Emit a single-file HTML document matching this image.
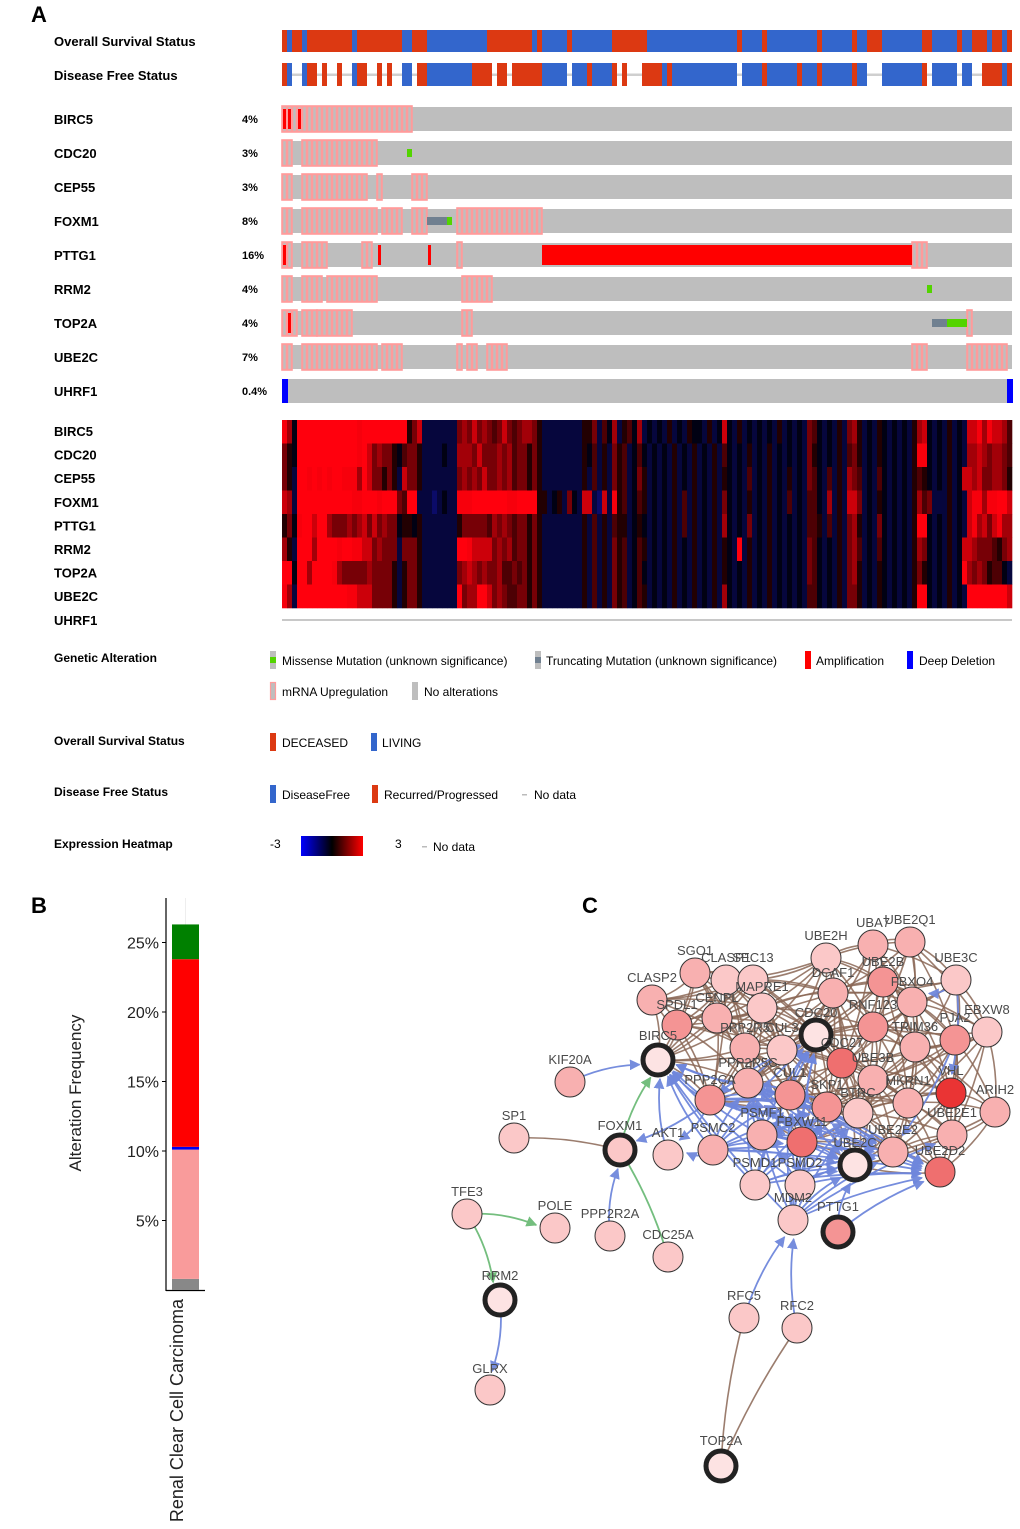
<!DOCTYPE html>
<html><head><meta charset="utf-8"><style>
html,body{margin:0;padding:0;background:#fff;}
svg{display:block;font-family:"Liberation Sans",Arial,sans-serif;}
</style></head><body>
<svg id="fig" width="1020" height="1529" viewBox="0 0 1020 1529" xmlns="http://www.w3.org/2000/svg">
<defs>
<linearGradient id="hmgrad" x1="0" x2="1" y1="0" y2="0">
<stop offset="0" stop-color="#0000ff"/><stop offset="0.5" stop-color="#000000"/><stop offset="1" stop-color="#ff0000"/>
</linearGradient>
<marker id="arB" viewBox="0 0 10 10" refX="9" refY="5" markerWidth="6" markerHeight="6" orient="auto"><path d="M0,0L10,5L0,10z" fill="#6f87dc"/></marker>
<marker id="arG" viewBox="0 0 10 10" refX="9" refY="5" markerWidth="6" markerHeight="6" orient="auto"><path d="M0,0L10,5L0,10z" fill="#6dbb78"/></marker>
</defs>
<text x="31" y="22" font-size="22" font-weight="bold">A</text>
<text x="31" y="913" font-size="22" font-weight="bold">B</text>
<text x="582" y="913" font-size="22" font-weight="bold">C</text>
<g id="onco"></g>
<g id="heat"></g>
<g id="legend"></g>
<g id="bar"></g>
<g id="net"></g>
</svg>
<script>
const NS="http://www.w3.org/2000/svg";
function el(tag,attrs,parent,text){const e=document.createElementNS(NS,tag);for(const k in attrs)e.setAttribute(k,attrs[k]);if(text!==undefined)e.textContent=text;parent.appendChild(e);return e;}

// ---------- Panel A data ----------
const N=146;
const genes=["BIRC5","CDC20","CEP55","FOXM1","PTTG1","RRM2","TOP2A","UBE2C","UHRF1"];
const pcts=["4%","3%","3%","8%","16%","4%","4%","7%","0.4%"];
const osBounds=[0,1,2,4,5,14,15,24,26,29,41,50,51,52,57,58,66,73,91,92,96,97,107,108,114,115,117,120,128,130,135,136,138,141,142,144,145,146];
const dfsRuns=[[0,1,"R"],[1,2,"B"],[4,5,"B"],[5,7,"R"],[8,9,"R"],[11,12,"R"],[14,15,"B"],[15,17,"R"],[19,20,"R"],[21,22,"R"],[24,26,"B"],[27,29,"R"],[29,38,"B"],[38,42,"R"],[43,45,"R"],[46,52,"R"],[52,57,"B"],[58,61,"B"],[61,62,"R"],[62,66,"B"],[66,67,"R"],[68,69,"R"],[72,76,"R"],[76,77,"B"],[77,78,"R"],[78,91,"B"],[92,96,"B"],[96,97,"R"],[97,103,"B"],[103,104,"R"],[104,107,"B"],[107,108,"R"],[108,114,"B"],[114,115,"R"],[115,117,"B"],[120,128,"B"],[128,129,"R"],[130,135,"B"],[136,138,"B"],[140,144,"R"],[144,145,"B"],[145,146,"R"]];
const mrnaUp=[[[0,25]],[[0,1],[4,18]],[[0,1],[4,16],[19,19],[26,28]],[[0,1],[4,18],[20,23],[26,28],[35,51]],[[0,1],[4,8],[16,17],[35,35],[126,128]],[[0,1],[4,7],[9,18],[36,41]],[[0,2],[4,6],[7,13],[36,37],[137,137]],[[0,1],[4,18],[20,23],[35,35],[37,38],[41,44],[126,128],[137,144]],[]];
const ampl=[[[0,0],[1,1],[3,3]],[],[],[],[[0,0],[19,19],[29,29],[52,125]],[],[[1,1]],[],[]];
const missense=[[],[25],[],[33],[],[129],[133,134,135,136],[],[]];
const truncating=[[],[],[],[29,30,31,32],[],[],[130,131,132],[],[]];
const deepDel=[[],[],[],[],[],[],[],[],[0,145]];
const heatRows=[
"86"+"2"+"9999999999998999999999"+"357"+"1111111"+"56575654575456653"+"11111111"+"33514261342612"+"12131213221312"+"7"+"2131212121312121"+"54"+"212131"+"56"+"312132121213"+"67"+"21213121"+"778687764",
"53"+"2"+"999999999999"+"8975"+"6553"+"2"+"4553"+"1111211"+"66657555656455353"+"11111111"+"32413153412421"+"21213121312131"+"4"+"2121312131212121"+"53"+"212131"+"45"+"312132121213"+"88"+"21213121"+"667656654",
"53"+"1"+"998989899888"+"6975"+"5353"+"1"+"7553"+"1111111"+"56565755656455353"+"11111111"+"31413153412531"+"21213121312131"+"3"+"2121412131213121"+"54"+"214131"+"65"+"412142121213"+"43"+"21213127"+"767556653",
"76"+"1"+"999999999998"+"8999"+"8999"+"5"+"4991"+"1101211"+"88899999998899993"+"31231521"+"77107183412431"+"21213141312131"+"5"+"2121312131214121"+"44"+"216131"+"77"+"512132121213"+"64"+"51113121"+"788688997",
"35"+"2"+"899799655565"+"6757"+"5655"+"2"+"3323"+"1111111"+"35555546565455353"+"11111111"+"31413143312321"+"21213141312131"+"6"+"2121512131212121"+"44"+"314131"+"56"+"312152121213"+"99"+"21213121"+"786757866",
"63"+"1"+"999699998998"+"8775"+"6555"+"1"+"5553"+"1111111"+"99877775656455353"+"11111111"+"31413153412431"+"21213121312131"+"3"+"2191312131212121"+"54"+"212131"+"56"+"412142121213"+"65"+"21213127"+"765554356",
"99"+"2"+"996999986555"+"5565"+"5553"+"1"+"3553"+"1111111"+"56765655644545353"+"11111111"+"31413153412421"+"21213121312131"+"3"+"2121312131212121"+"54"+"212131"+"56"+"312132121213"+"53"+"21213129"+"656534421",
"86"+"1"+"999999999988"+"7775"+"5553"+"1"+"3553"+"1111111"+"95669975654455353"+"11111111"+"31413153412431"+"21213121312131"+"6"+"2121312131212121"+"44"+"212131"+"55"+"312132121213"+"99"+"21213121"+"999999997"
];

const X0=282, X1=1012, SW=(X1-X0)/N;
const sx=i=>X0+i*SW;
const onco=document.getElementById('onco');
const RED="#dc3912", BLUE="#3366cc";

let t=el('text',{x:54,y:46,'font-size':13,'font-weight':'bold'},onco,'Overall Survival Status');

t=el('text',{x:54,y:80,'font-size':13,'font-weight':'bold'},onco,'Disease Free Status');

for(let k=0;k<osBounds.length-1;k++){
  const r=el('rect',{x:sx(osBounds[k]),y:30,width:(osBounds[k+1]-osBounds[k])*SW,height:22,fill:k%2===0?RED:BLUE},onco);
  
  
}
let gl=el('rect',{x:X0,y:73.5,width:X1-X0,height:2.5,fill:'#cfcfcf'},onco);

dfsRuns.forEach(d=>{
  const r=el('rect',{x:sx(d[0]),y:63,width:(d[1]-d[0])*SW,height:23,fill:d[2]==="R"?RED:BLUE},onco);
  
  
});

genes.forEach((g,gi)=>{
  const y=107+34*gi, h=24;
  let lb=el('text',{x:54,y:y+17,'font-size':13,'font-weight':'bold'},onco,g);
  
  
  let pc=el('text',{x:242,y:y+16,'font-size':11,'font-weight':'bold'},onco,pcts[gi]);
  
  
  let bg=el('rect',{x:X0,y:y,width:X1-X0,height:h,fill:'#bebebe'},onco);
  
  
  mrnaUp[gi].forEach(rg=>{
    for(let i=rg[0];i<=rg[1];i++){
      const c=el('rect',{x:sx(i)+0.6,y:y-0.5,width:SW-1.2,height:h+1,fill:'none',stroke:'#ff9b9b','stroke-width':1.4},onco);
      
      
    }
    const o=el('rect',{x:sx(rg[0]),y:y-1,width:(rg[1]-rg[0]+1)*SW,height:h+2,fill:'none',stroke:'#ff9b9b','stroke-width':1.6},onco);
    
    
  });
  ampl[gi].forEach(rg=>{
    const single=rg[0]===rg[1];
    const a=el('rect',{x:sx(rg[0])+(single?1:0),y:y+2,width:single?SW-2:(rg[1]-rg[0]+1)*SW,height:h-4,fill:'#ff0000'},onco);
    
    
  });
  truncating[gi].forEach(i=>{
    const a=el('rect',{x:sx(i),y:y+8,width:SW,height:8,fill:'#708090'},onco);
    
    
  });
  missense[gi].forEach(i=>{
    const a=el('rect',{x:sx(i),y:y+8,width:SW,height:8,fill:'#53d400'},onco);
    
    
  });
  deepDel[gi].forEach(i=>{
    const a=el('rect',{x:sx(i),y:y,width:SW+1,height:h,fill:'#0000ff'},onco);
    
    
  });
});

const heat=document.getElementById('heat');
const HY=420, HH=23.5;
function heatColor(d){let v=(d-2.2)*0.5;v=Math.max(-3,Math.min(3,v));const f=Math.abs(v)/3;const c=Math.round(255*f);return v>=0?`rgb(${c},0,${Math.round(c*0.05)})`:`rgb(${Math.round(c*0.12)},${Math.round(c*0.12)},${Math.min(255,c+10)})`;}
genes.forEach((g,gi)=>{
  const lb=el('text',{x:54,y:436+23.6*gi,'font-size':13,'font-weight':'bold'},heat,g);
  
  
});
heatRows.forEach((row,r)=>{
  for(let i=0;i<N;i++){
    const d=parseInt(row[i]||'2',10);
    const c=el('rect',{x:sx(i),y:HY+r*HH,width:SW+0.3,height:HH+0.3,fill:heatColor(d)},heat);
    
    
  }
});
let nl=el('rect',{x:X0,y:619,width:X1-X0,height:2,fill:'#c8c8c8'},heat);


const lg=document.getElementById('legend');
function ltxt(x,y,s,name,bold){const e=el('text',{x:x,y:y,'font-size':12,'font-weight':bold?'bold':'normal',fill:'#000'},lg,s);return e;}
function glyph(x,y,fill,name,inner){const g=el('g',{},lg);el('rect',{x:x,y:y,width:6,height:18,fill:fill.bg},g);if(fill.stroke)el('rect',{x:x+0.5,y:y+0.5,width:5,height:17,fill:'none',stroke:fill.stroke,'stroke-width':1.2},g);if(inner)el('rect',{x:x,y:y+6,width:6,height:6,fill:inner},g);return g;}
ltxt(54,662,'Genetic Alteration','legend-genetic-alteration-title',true);
glyph(270,651,{bg:'#bebebe'},'legend-missense-glyph','#53d400');ltxt(282,665,'Missense Mutation (unknown significance)','legend-missense-text');
glyph(535,651,{bg:'#bebebe'},'legend-truncating-glyph','#708090');ltxt(546,665,'Truncating Mutation (unknown significance)','legend-truncating-text');
glyph(805,651,{bg:'#ff0000'},'legend-amplification-glyph');ltxt(816,665,'Amplification','legend-amplification-text');
glyph(907,651,{bg:'#0000ff'},'legend-deep-deletion-glyph');ltxt(919,665,'Deep Deletion','legend-deep-deletion-text');
glyph(270,682,{bg:'#bebebe',stroke:'#ff9b9b'},'legend-mrna-glyph');ltxt(282,696,'mRNA Upregulation','legend-mrna-text');
glyph(412,682,{bg:'#bebebe'},'legend-no-alteration-glyph');ltxt(424,696,'No alterations','legend-no-alteration-text');
ltxt(54,745,'Overall Survival Status','legend-os-title',true);
glyph(270,733,{bg:RED},'legend-deceased-glyph');ltxt(282,747,'DECEASED','legend-deceased-text');
glyph(371,733,{bg:BLUE},'legend-living-glyph');ltxt(382,747,'LIVING','legend-living-text');
ltxt(54,796,'Disease Free Status','legend-dfs-title',true);
glyph(270,785,{bg:BLUE},'legend-diseasefree-glyph');ltxt(282,799,'DiseaseFree','legend-diseasefree-text');
glyph(372,785,{bg:RED},'legend-recurred-glyph');ltxt(384,799,'Recurred/Progressed','legend-recurred-text');
let dsh=el('rect',{x:522,y:794,width:5,height:1.5,fill:'#bbb'},lg);
ltxt(534,799,'No data','legend-no-data-text');
ltxt(54,848,'Expression Heatmap','legend-heatmap-title',true);
ltxt(270,848,'-3','legend-heatmap-min');
let gr=el('rect',{x:301,y:836,width:62,height:20,fill:'url(#hmgrad)'},lg);
ltxt(395,848,'3','legend-heatmap-max');
dsh=el('rect',{x:422,y:846,width:5,height:1.5,fill:'#bbb'},lg);
ltxt(433,851,'No data','legend-heatmap-no-data-text');

// ---------- Panel B ----------
const barCategory=["Renal Clear Cell Carcinoma"];
const barSegNames=["Multiple alterations","mRNA Upregulation","Deep Deletion","Amplification","Mutation"];
const barSegValues=[0.8,9.3,0.2,13.5,2.5];
const barSegColors=["#888888","#f99b9b","#0000ee","#ff0000","#008000"];
const barTicks=[5,10,15,20,25];
const bar=document.getElementById('bar');
const by=v=>1290-v*13.9;
let ax=el('line',{x1:166,y1:898,x2:166,y2:1291,stroke:'#000','stroke-width':1.2},bar);
ax=el('line',{x1:166,y1:1290.5,x2:205,y2:1290.5,stroke:'#000','stroke-width':1.2},bar);
let gline=el('line',{x1:185.5,y1:898,x2:185.5,y2:925,stroke:'#eee','stroke-width':1},bar);
barTicks.forEach(v=>{
  const tk=el('line',{x1:162,y1:by(v),x2:166,y2:by(v),stroke:'#000'},bar);
  
  
  const tl=el('text',{x:159,y:by(v)+6,'font-size':16,'text-anchor':'end',fill:'#222'},bar,v+'%');
  
  
});
let acc=0;
barSegValues.forEach((v,i)=>{
  const r=el('rect',{x:172,y:by(acc+v),width:27,height:by(acc)-by(acc+v),fill:barSegColors[i]},bar);
  
  
  acc+=v;
});
let yt=el('text',{x:0,y:0,'font-size':17,'text-anchor':'middle',transform:'translate(81,1093) rotate(-90)',fill:'#222'},bar,'Alteration Frequency');

let xt=el('text',{x:0,y:0,'font-size':18,'text-anchor':'end',transform:'translate(183,1299) rotate(-90)',fill:'#222'},bar,barCategory[0]);


// ---------- Panel C ----------
const nodeNames=["UBE2H","UBA7","UBE2Q1","UBE3C","SGO1","CLASP1","SEC13","CLASP2","MAPRE1","DCAF1","UBE2B","FBXO4","EBXW8","SPDL1","CENPL","PPP2R5","CUL3","CDC20","RNF123","PJA2","TRIM36","BIRC5","CDC27","UBE3B","PPP2R5C","CUL1","SKP1","BTRC","MKRN1","VHL","ARIH2","PPP2CA","PSMF1","FBXW11","UBE2E2","UBE2E1","UBE2C","UBE2D2","PSMC2","AKT1","PSMD1","PSMD2","FOXM1","MDM2","PTTG1","KIF20A","SP1","TFE3","POLE","PPP2R2A","CDC25A","RRM2","GLRX","RFC5","RFC2","TOP2A"];
const nodeX=[826,873,910,956,695,726,753,652,762,833,883,912,987,677,717,745,782,816,873,955,915,658,842,873,748,790,827,858,908,951,995,710,762,802,893,952,855,940,713,668,755,800,620,793,838,570,514,467,555,610,668,500,490,744,797,721];
const nodeY=[958,945,942,980,973,980,980,1000,1008,993,982,1002,1032,1025,1018,1048,1050,1035,1027,1040,1047,1060,1063,1080,1083,1095,1107,1113,1103,1093,1112,1100,1135,1142,1152,1135,1165,1172,1150,1155,1185,1185,1150,1220,1232,1082,1138,1214,1228,1236,1257,1300,1390,1318,1328,1466];
const nodeShade=[1,2,2,1,2,1,1,2,1,2,3,2,1,3,2,2,1,0,3,3,2,0,4,2,2,3,3,1,2,5,2,3,2,4,2,2,0,4,2,1,1,1,1,1,3,2,1,1,1,1,1,0,1,1,1,0];
const seedNodes=["BIRC5","CDC20","FOXM1","PTTG1","RRM2","TOP2A","UBE2C"];
const labelDy=[-22,-22,-22,-22,-22,-22,-22,-22,-21,-20,-20,-20,-22,-20,-20,-20,-22,-22,-22,-22,-20,-24,-20,-22,-20,-22,-22,-20,-22,-22,-22,-20,-22,-20,-22,-22,-22,-21,-22,-22,-22,-22,-24,-22,-25,-22,-22,-22,-22,-22,-22,-24,-21,-22,-22,-25];
const brownCluster=["UBE2H","UBA7","UBE2Q1","UBE3C","SGO1","CLASP1","SEC13","CLASP2","MAPRE1","DCAF1","UBE2B","FBXO4","EBXW8","SPDL1","CENPL","PPP2R5","CUL3","CDC20","RNF123","PJA2","TRIM36","BIRC5","CDC27","UBE3B","PPP2R5C","CUL1","SKP1","BTRC","MKRN1","VHL","ARIH2","PPP2CA","FBXW11","UBE2E2","UBE2E1","UBE2D2","UBE2C"];
const blueSources=["PSMF1","PSMC2","PSMD1","PSMD2","MDM2","PPP2CA","PPP2R5C","CUL1"];
const blueTargets=["CDC20","UBE2C","UBE2E2","UBE2D2","SKP1","FBXW11","BTRC","CUL1","BIRC5","PPP2R5C"];
const extraEdges=[["KIF20A","BIRC5","blue"],["SP1","FOXM1","brown"],["FOXM1","BIRC5","green"],["AKT1","BIRC5","blue"],["FOXM1","CDC25A","greenline"],["PPP2R2A","FOXM1","blue"],["TFE3","POLE","green"],["TFE3","RRM2","green"],["RRM2","GLRX","blue"],["TOP2A","RFC5","brown"],["TOP2A","RFC2","brown"],["RFC5","MDM2","blue"],["RFC2","MDM2","blue"],["PTTG1","UBE2C","blue"],["PTTG1","UBE2D2","blue"],["MDM2","UBE2E1","blue"],["PPP2CA","FOXM1","blue"],["PPP2CA","AKT1","blue"],["PSMC2","AKT1","blue"],["UBE3C","FBXO4","blue"],["PJA2","UBE2E2","blue"],["UBE3C","VHL","blue"]];

const net=document.getElementById('net');
const idx={};nodeNames.forEach((n,i)=>idx[n]=i);
const R=16;
function edge(a,b,kind){
  const i=idx[a],j=idx[b];
  let x1=nodeX[i],y1=nodeY[i],x2=nodeX[j],y2=nodeY[j];
  const dx=x2-x1,dy=y2-y1,L=Math.hypot(dx,dy)||1;
  const arrow=(kind==="blue"||kind==="green");
  if(arrow){x2-=dx/L*(R+3);y2-=dy/L*(R+3);}
  const col=kind==="blue"?"#6f87dc":(kind.startsWith("green")?"#6dbb78":"#8a6655");
  const mx=(x1+x2)/2+dy/L*8, my=(y1+y2)/2-dx/L*8;
  const attrs={d:`M${x1},${y1}Q${mx},${my} ${x2},${y2}`,fill:'none',stroke:col,'stroke-width':kind==="brown"?1.6:1.8,opacity:kind==="brown"?0.85:0.95};
  if(kind==="blue")attrs['marker-end']='url(#arB)';
  if(kind==="green")attrs['marker-end']='url(#arG)';
  const p=el('path',attrs,net);
  
  
}
for(let a=0;a<brownCluster.length;a++)for(let b=a+1;b<brownCluster.length;b++){
  const i=idx[brownCluster[a]],j=idx[brownCluster[b]];
  if(Math.hypot(nodeX[i]-nodeX[j],nodeY[i]-nodeY[j])<125)edge(brownCluster[a],brownCluster[b],"brown");
}
blueSources.forEach(s=>blueTargets.forEach(t2=>{if(s!==t2)edge(s,t2,"blue");}));
extraEdges.forEach(e=>edge(e[0],e[1],e[2]));
const shades=["#fde3e3","#fbc8c8","#f8b0b0","#f49494","#ef6f6f","#ea3434"];
nodeNames.forEach((n,i)=>{
  const seed=seedNodes.includes(n);
  const c=el('circle',{cx:nodeX[i],cy:nodeY[i],r:15,fill:shades[nodeShade[i]],stroke:seed?'#222':'#333','stroke-width':seed?5:1},net);
  
  
});
nodeNames.forEach((n,i)=>{
  const tx=el('text',{x:nodeX[i],y:nodeY[i]+labelDy[i]+4,'font-size':13,'text-anchor':'middle',fill:'#4a4a4a'},net,n);
  
  
});
</script>
</body></html>
